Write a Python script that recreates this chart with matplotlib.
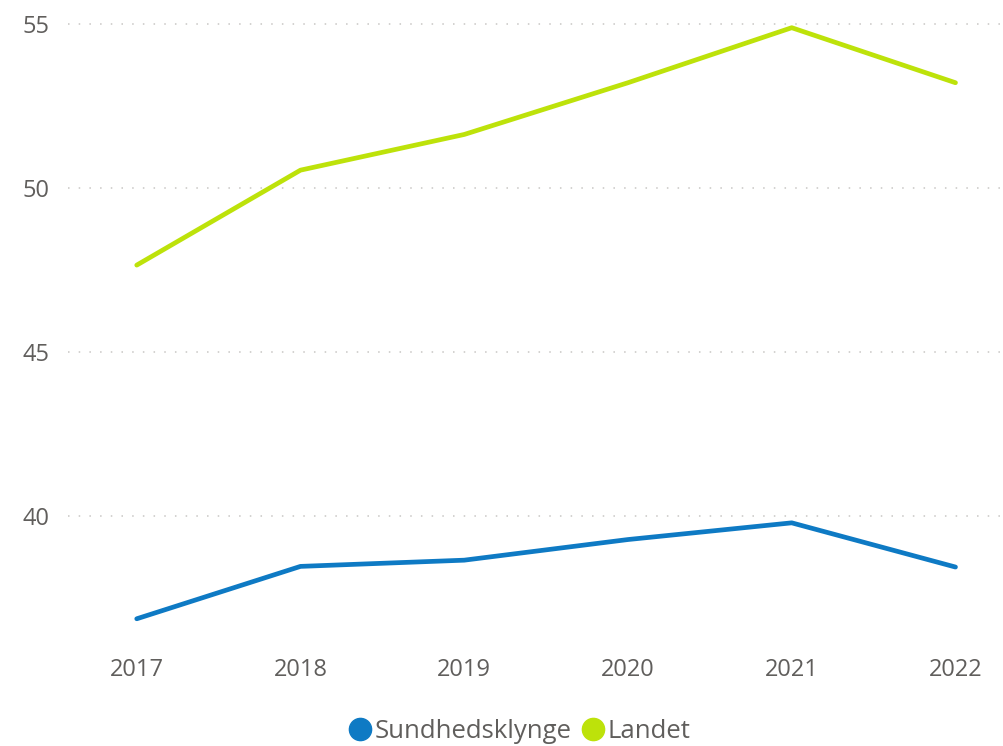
import matplotlib
matplotlib.use("Agg")
from matplotlib import pyplot as plt
from matplotlib.lines import Line2D

years = [2017, 2018, 2019, 2020, 2021, 2022]
sundhedsklynge = [36.85, 38.45, 38.64, 39.27, 39.78, 38.43]
landet = [47.65, 50.55, 51.64, 53.22, 54.9, 53.22]
series_names = ["Sundhedsklynge", "Landet"]
y_ticks = [40, 45, 50, 55]

BLUE = "#0E7AC4"
GREEN = "#BDE20A"
TEXT = "#605E5C"

plt.rcParams["font.family"] = ["Open Sans", "DejaVu Sans"]

fig = plt.figure(figsize=(10.04, 7.46), dpi=100)
ax = fig.add_axes([0.0677, 0.142, 0.928, 0.845])

ax.plot(years, sundhedsklynge, color=BLUE, lw=3.4, solid_capstyle="round", solid_joinstyle="round")
ax.plot(years, landet, color=GREEN, lw=3.4, solid_capstyle="round", solid_joinstyle="round")

ax.set_xlim(2016.58, 2022.27)
ax.set_ylim(36.2, 55.45)
ax.set_xticks(years)
ax.set_yticks(y_ticks)
ax.tick_params(axis="both", length=0, labelsize=17, colors=TEXT)
ax.tick_params(axis="y", pad=13)
ax.tick_params(axis="x", pad=13)
for s in ax.spines.values():
    s.set_visible(False)
ax.grid(axis="y", color="#C8C6C4", lw=1.1, linestyle=(0, (1, 6)))
ax.set_axisbelow(True)

# legend
handles = [Line2D([], [], marker="o", ls="", color=c, markersize=16) for c in (BLUE, GREEN)]
fig.legend(handles, series_names, loc="center", bbox_to_anchor=(0.516, 0.019), ncol=2,
           frameon=False, fontsize=18.5, handletextpad=0.0, columnspacing=0.3,
           labelcolor=TEXT, handlelength=1.1, borderaxespad=0, borderpad=0)

fig.savefig("out.png", dpi=100)
